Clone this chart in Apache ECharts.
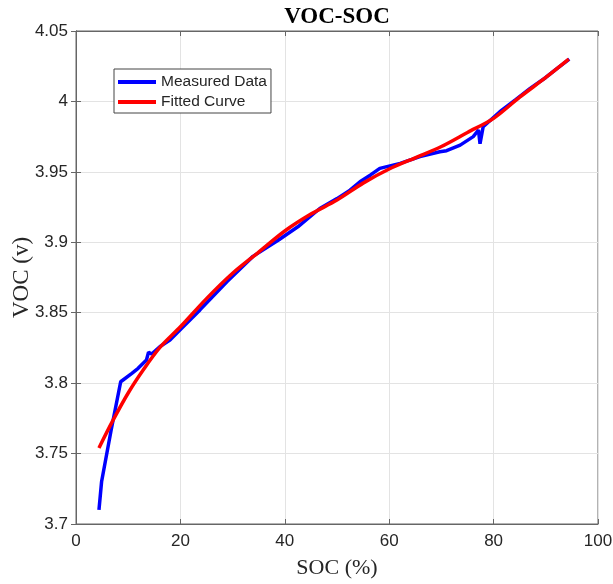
<!DOCTYPE html>
<html>
<head>
<meta charset="utf-8">
<script src="https://cdn.jsdelivr.net/npm/echarts@6/dist/echarts.min.js"></script>
<style>
html,body{margin:0;padding:0;background:#fff;}
#chart{width:613px;height:584px;}
</style>
</head>
<body>
<div id="chart"></div>
<script>
// Data
const xTicks = [0, 20, 40, 60, 80, 100];
const yTicks = [3.7, 3.75, 3.8, 3.85, 3.9, 3.95, 4, 4.05];

const measuredSOC = [4.4, 4.9, 6.7, 8.56, 10.7, 11.9, 13.5, 13.9, 14.5, 16.1, 18.0, 20.0, 23.75, 28.9, 33.9, 38.8, 42.5, 46.7, 50, 52.5, 54.4, 56.5, 58.2, 62.1, 65.9, 69.7, 71.0, 73.6, 76.1, 77.1, 77.4, 78.0, 81.2, 84.3, 87.0, 90, 92, 94.5];
const measuredVOC = [3.710, 3.730, 3.766, 3.801, 3.807, 3.8105, 3.8164, 3.822, 3.8207, 3.826, 3.8306, 3.838, 3.852, 3.872, 3.890, 3.9016, 3.911, 3.924, 3.931, 3.937, 3.943, 3.948, 3.9525, 3.956, 3.9608, 3.9643, 3.965, 3.969, 3.975, 3.9797, 3.970, 3.982, 3.9927, 4.0015, 4.0093, 4.017, 4.023, 4.030];

const fittedSOC = [4.4, 7, 10, 13, 16, 20, 25, 30, 35, 40, 45, 50, 55, 60, 65, 70, 75, 80, 85, 90, 94.4];
const fittedVOC = [3.754, 3.773, 3.793, 3.810, 3.825, 3.840, 3.860, 3.878, 3.893, 3.908, 3.920, 3.930, 3.942, 3.952, 3.960, 3.968, 3.978, 3.988, 4.003, 4.017, 4.030];

const seriesNames = ['Measured Data', 'Fitted Curve'];

const chart = echarts.init(document.getElementById('chart'), null, {renderer: 'canvas'});
const pair = (xs, ys) => xs.map((x, i) => [x, ys[i]]);

const axisColor = '#666666';
const labelStyle = {color: '#262626', fontFamily: 'Liberation Sans', fontSize: 17};

chart.setOption({
  animation: false,
  backgroundColor: '#ffffff',
  title: {
    text: 'VOC-SOC',
    left: 332, top: 1,
    textAlign: 'center',
    textStyle: {fontFamily: 'Liberation Serif', fontWeight: 'bold', fontSize: 23, color: '#000'}
  },
  grid: {left: 76, right: 15, top: 31, bottom: 60, outerBoundsMode: 'none', containLabel: false,
         show: true, borderColor: axisColor, borderWidth: 1, backgroundColor: '#fff'},
  legend: {
    orient: 'vertical',
    left: 114, top: 69,
    data: seriesNames,
    icon: 'rect',
    itemWidth: 38, itemHeight: 4, itemGap: 4,
    padding: [5, 4, 3, 4],
    borderColor: '#444', borderWidth: 1, backgroundColor: '#fff',
    textStyle: {fontFamily: 'Liberation Sans', fontSize: 15.5, color: '#262626', lineHeight: 16}
  },
  xAxis: [{
    type: 'value', min: xTicks[0], max: xTicks[xTicks.length - 1], interval: 20,
    name: 'SOC (%)', nameLocation: 'middle', nameGap: 33,
    nameTextStyle: {fontFamily: 'Liberation Serif', fontSize: 22, color: '#262626'},
    axisLine: {show: true, lineStyle: {color: axisColor}},
    axisTick: {show: true, inside: true, length: 5, lineStyle: {color: axisColor}},
    axisLabel: Object.assign({margin: 9}, labelStyle),
    splitLine: {show: true, lineStyle: {color: '#e3e3e3', width: 1}}
  }, {
    type: 'value', position: 'top', min: xTicks[0], max: xTicks[xTicks.length - 1], interval: 20,
    axisLine: {show: true, lineStyle: {color: axisColor}},
    axisTick: {show: true, inside: true, length: 5, lineStyle: {color: axisColor}},
    axisLabel: {show: false}, splitLine: {show: false}
  }],
  yAxis: [{
    type: 'value', min: yTicks[0], max: yTicks[yTicks.length - 1], interval: 0.05,
    name: 'VOC (v)', nameLocation: 'middle', nameGap: 43, nameMoveOverlap: false,
    nameTextStyle: {fontFamily: 'Liberation Serif', fontSize: 23, color: '#262626'},
    axisLine: {show: true, lineStyle: {color: axisColor}},
    axisTick: {show: true, inside: true, length: 5, lineStyle: {color: axisColor}},
    axisLabel: Object.assign({margin: 8}, labelStyle),
    splitLine: {show: true, lineStyle: {color: '#e3e3e3', width: 1}}
  }, {
    type: 'value', position: 'right', min: yTicks[0], max: yTicks[yTicks.length - 1], interval: 0.05,
    axisLine: {show: true, lineStyle: {color: axisColor}},
    axisTick: {show: true, inside: true, length: 5, lineStyle: {color: axisColor}},
    axisLabel: {show: false}, splitLine: {show: false}
  }],
  series: [{
    name: seriesNames[0], type: 'line', showSymbol: false, symbol: 'none',
    data: pair(measuredSOC, measuredVOC),
    lineStyle: {color: '#0000ff', width: 3.5}, itemStyle: {color: '#0000ff'}
  }, {
    name: seriesNames[1], type: 'line', showSymbol: false, symbol: 'none', smooth: 0.3,
    data: pair(fittedSOC, fittedVOC),
    lineStyle: {color: '#ff0000', width: 3.5}, itemStyle: {color: '#ff0000'}
  }]
});
</script>
</body>
</html>
